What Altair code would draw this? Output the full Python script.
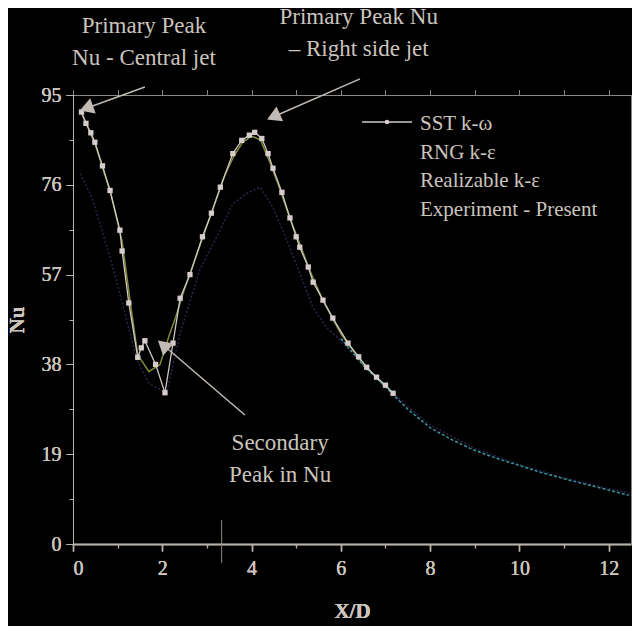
import altair as alt
import pandas as pd

# ---------------- data ----------------
series_names = ["SST k-\u03c9", "RNG k-\u03b5", "Realizable k-\u03b5", "Experiment - Present"]
series_colors = ["#cfc7c4", "#7f8c34", "#27264f", "#3a939b"]

sst_x = [0.19, 0.29, 0.40, 0.49, 0.66, 0.83, 1.05, 1.10, 1.25, 1.45, 1.53, 1.61, 1.85, 2.06, 2.24,
         2.40, 2.62, 2.90, 3.10, 3.30, 3.58, 3.78, 3.95, 4.07, 4.23, 4.37, 4.48, 4.68, 4.86, 5.00,
         5.08, 5.27, 5.38, 5.60, 5.82, 6.16, 6.40, 6.58, 6.80, 7.00, 7.17]
sst_y = [91.4, 89.0, 87.0, 85.0, 80.0, 74.8, 66.4, 62.0, 51.0, 39.5, 41.5, 43.0, 38.0, 32.0, 42.5,
         52.0, 57.0, 65.0, 70.0, 75.5, 82.6, 85.4, 86.5, 87.1, 85.8, 82.6, 79.5, 74.4, 69.0, 65.0,
         62.8, 58.6, 55.4, 51.6, 47.8, 42.5, 39.6, 37.4, 35.3, 33.6, 31.9]

rng_x = [0.20, 0.50, 0.85, 1.10, 1.30, 1.45, 1.70, 1.95, 2.15, 2.30, 2.50, 2.80, 3.10, 3.40, 3.60,
         3.80, 4.00, 4.20, 4.40, 4.60, 4.80, 5.00, 5.30, 5.60, 6.00, 6.50, 7.00]
rng_y = [91.0, 84.5, 74.0, 64.0, 50.0, 40.0, 36.5, 38.0, 44.0, 48.0, 54.0, 62.0, 70.0, 78.0, 82.0,
         85.0, 86.3, 85.5, 81.0, 76.0, 70.5, 65.5, 58.0, 51.5, 44.5, 38.0, 33.3]

real_x = [0.16, 0.42, 0.83, 1.05, 1.43, 1.70, 2.10, 2.40, 2.84, 3.22, 3.58, 3.90, 4.19, 4.48, 4.79,
          5.08, 5.37, 5.69, 6.00, 6.50, 7.00, 7.50, 8.00, 9.00, 10.00, 11.00, 12.00, 12.50]
real_y = [78.4, 73.4, 60.7, 53.0, 39.0, 34.0, 32.0, 44.6, 58.0, 65.0, 72.0, 74.2, 75.5, 71.2, 64.3,
          57.3, 50.1, 45.7, 43.0, 38.0, 33.5, 29.0, 25.2, 20.2, 16.8, 14.0, 11.7, 10.7]

exp_x = [6.00, 6.50, 7.00, 7.50, 8.00, 8.50, 9.00, 9.50, 10.00, 10.50, 11.00, 11.50, 12.00, 12.45]
exp_y = [43.5, 37.8, 33.2, 28.5, 24.6, 22.0, 19.8, 18.1, 16.6, 15.1, 13.8, 12.6, 11.4, 10.3]

x_major = [0, 2, 4, 6, 8, 10, 12]
x_minor = [1, 3, 5, 7, 9, 11]
y_major = [0, 19, 38, 57, 76, 95]
y_minor = [9.5, 28.5, 47.5, 66.5, 85.5]

# annotations (data units)
ann_text = ["Primary Peak", "Nu - Central jet", "Primary Peak Nu", "\u2013 Right side jet",
            "Secondary", "Peak in Nu"]
ann_x = [1.59, 1.59, 6.40, 6.40, 4.64, 4.64]
ann_y = [108.2, 101.3, 110.1, 103.3, 19.9, 13.2]

arrow_x = [1.61, 6.43, 3.85]
arrow_y = [96.7, 98.4, 27.3]
head_x = [0.30, 4.49, 2.02]
head_y = [92.2, 90.4, 42.1]
head_angle = [250, 246, 311]

# ---------------- frames ----------------
frames = []
for name, xs_, ys_ in zip(series_names, [sst_x, rng_x, real_x, exp_x], [sst_y, rng_y, real_y, exp_y]):
    frames.append(pd.DataFrame({"x": xs_, "y": ys_, "series": name}))
lines_df = pd.concat(frames, ignore_index=True)

ann_df = pd.DataFrame({"x": ann_x, "y": ann_y, "text": ann_text})
arrow_df = pd.DataFrame({"x": arrow_x, "y": arrow_y, "x2": head_x, "y2": head_y,
                         "ang": head_angle})

TXT = "#cbc4bd"
AX = "#b9b2ab"
FONT = "Liberation Serif"

xs = alt.Scale(domain=[0, 12.5], nice=False, zero=False)
ys = alt.Scale(domain=[0, 95], nice=False, zero=False)
color = alt.Color("series:N", scale=alt.Scale(domain=series_names, range=series_colors), legend=None)

x_axis = alt.Axis(values=x_major, tickSize=7, labelFontSize=20, labelFont=FONT, labelColor=TXT,
                  labelPadding=7, domainColor=AX, domainWidth=1.6, tickColor=AX, tickWidth=1.3,
                  grid=False, title="X/D", titleFont=FONT, titleFontSize=21, titleFontWeight="bold",
                  titleColor=TXT, titlePadding=22, orient="bottom")
y_axis = alt.Axis(values=y_major, tickSize=7, labelFontSize=20, labelFont=FONT, labelColor=TXT,
                  labelPadding=5, domainColor=AX, domainWidth=1, tickColor=AX, tickWidth=1,
                  grid=False, title="Nu", titleFont=FONT, titleFontSize=21, titleFontWeight="bold",
                  titleColor=TXT, titlePadding=14, orient="left")

base = alt.Chart(lines_df)

main_lines = base.transform_filter(alt.datum.series != series_names[0]).mark_line(
    strokeWidth=1.5).encode(
    x=alt.X("x:Q", scale=xs, axis=x_axis),
    y=alt.Y("y:Q", scale=ys, axis=y_axis),
    color=color,
    strokeDash=alt.StrokeDash("series:N", scale=alt.Scale(
        domain=series_names, range=[[1, 0], [1, 0], [2, 2], [3, 2]]), legend=None),
)

sst_line = base.transform_filter(alt.datum.series == series_names[0]).mark_line(
    strokeWidth=1.3, color=series_colors[0]).encode(
    x=alt.X("x:Q", scale=xs, axis=x_axis),
    y=alt.Y("y:Q", scale=ys, axis=y_axis),
)
sst_pts = base.transform_filter(alt.datum.series == series_names[0]).mark_point(
    shape="square", filled=True, size=28, color="#d6cccb", opacity=1).encode(
    x=alt.X("x:Q", scale=xs, axis=x_axis),
    y=alt.Y("y:Q", scale=ys, axis=y_axis),
)

minor = base.mark_point(opacity=0).encode(
    x=alt.X("x:Q", scale=xs, axis=alt.Axis(values=x_minor, tickSize=4, labels=False, domain=False,
                                           tickColor=AX, tickWidth=1.3, grid=False, title=None,
                                           orient="bottom")),
    y=alt.Y("y:Q", scale=ys, axis=alt.Axis(values=y_minor, tickSize=4, labels=False, domain=False,
                                           tickColor=AX, grid=False, title=None, orient="left")),
)

ann = alt.Chart(ann_df).mark_text(font=FONT, fontSize=23, color=TXT, align="center",
                                  baseline="alphabetic").encode(
    x=alt.X("x:Q", scale=xs), y=alt.Y("y:Q", scale=ys), text="text:N")

arrows = alt.Chart(arrow_df).mark_rule(color="#c2bbb5", strokeWidth=1.5).encode(
    x=alt.X("x:Q", scale=xs), y=alt.Y("y:Q", scale=ys), x2="x2:Q", y2="y2:Q")
heads = alt.Chart(arrow_df).mark_point(shape="triangle-up", filled=True, size=260,
                                       color="#c2bbb5", opacity=1).encode(
    x=alt.X("x2:Q", scale=xs), y=alt.Y("y2:Q", scale=ys),
    angle=alt.Angle("ang:Q", scale=None))

# scan artefact mark near the x axis
art_df = pd.DataFrame({"x": [3.33], "y": [5.1], "y2": [-4.0]})
artefact = alt.Chart(art_df).mark_rule(color="#8f8983", strokeWidth=1).encode(
    x=alt.X("x:Q", scale=xs), y=alt.Y("y:Q", scale=ys), y2="y2:Q")

# manual legend (pixel offsets inside the plot area); only the SST symbol is visible
leg_layers = []
for i, name in enumerate(series_names):
    yb = 35 + i * 28.5
    leg_layers.append(alt.Chart(pd.DataFrame({"t": [name]})).mark_text(
        font=FONT, fontSize=21, color=TXT, align="left", baseline="alphabetic").encode(
        x=alt.value(347), y=alt.value(yb), text="t:N"))
leg_layers.append(alt.Chart(pd.DataFrame({"t": [series_names[0]]})).mark_rule(
    color=series_colors[0], strokeWidth=1.3).encode(
    x=alt.value(289), x2=alt.value(339), y=alt.value(27), y2=alt.value(27)))
leg_layers.append(alt.Chart(pd.DataFrame({"t": [series_names[0]]})).mark_point(
    shape="circle", filled=True, size=22, color="#d6cccb", opacity=1).encode(
    x=alt.value(314), y=alt.value(27)))

chart = alt.layer(
    minor, main_lines, sst_line, sst_pts, artefact, arrows, heads, ann, *leg_layers
).resolve_axis(x="independent", y="independent").properties(
    width=558, height=449,
    autosize=alt.AutoSizeParams(type="none"),
    padding={"left": 65, "top": 87, "right": 1, "bottom": 82},
    background="black",
).configure_view(stroke=None)

chart.save("out.html", embed_options={"renderer": "svg", "actions": False})
